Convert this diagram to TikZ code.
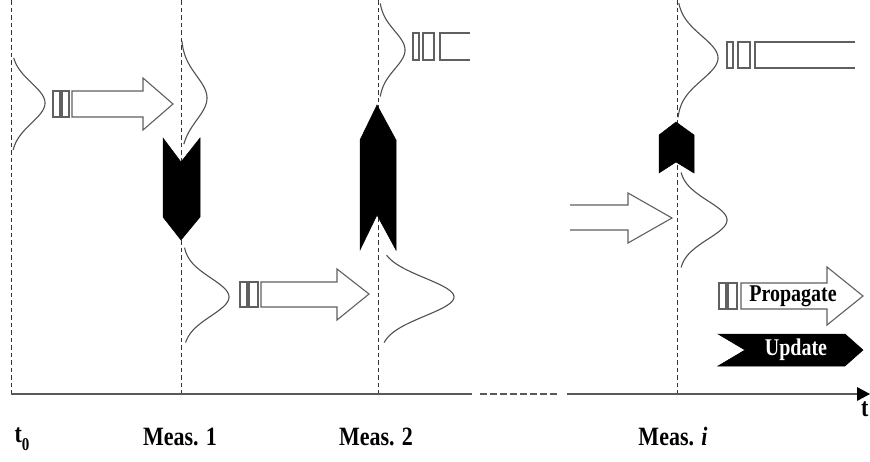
\documentclass[tikz,border=0pt]{standalone}
\usepackage{fontspec}
\setmainfont{Liberation Serif}
\usetikzlibrary{arrows.meta}
\definecolor{curvegray}{HTML}{505050}
\definecolor{outlinegray}{HTML}{606060}
\definecolor{guidegray}{HTML}{333333}
% Gaussian density drawn sideways against a time line:
% #1 base x, #2 peak height, #3 centre y, #4 sigma, #5 parameter range
\newcommand\gausscurve[5]{%
  \draw[gauss] plot[domain=#5, samples=60, smooth]
    ({#1+#2*exp(-0.5*(\x)*(\x))},{#3+#4*\x});}
% slightly tall lettering
\newcommand\tallword[1]{\scalebox{1}[1.2]{#1}}
\begin{document}
\begin{tikzpicture}[x=1pt,y=-1pt,
  guide/.style={draw=guidegray, line width=0.9pt, dash pattern=on 4.5pt off 3pt},
  gauss/.style={draw=curvegray, line width=1.1pt},
  propbox/.style={draw=outlinegray, line width=1.1pt, fill=white, line join=miter},
  updfill/.style={fill=black, draw=black, line width=0.5pt},
  axisline/.style={draw=black!65, line width=1.6pt},
  lbl/.style={font=\fontsize{22}{24}\selectfont\bfseries, inner sep=0pt},
  legendtext/.style={font=\fontsize{20}{22}\selectfont\bfseries, inner sep=0pt}]
\useasboundingbox (0,0) rectangle (870,461);

% measurement instants
\draw[guide] (11,0) -- (11,394);
\draw[guide] (181,0) -- (181,394);
\draw[guide] (378,0) -- (378,394);
\draw[guide] (677,0) -- (677,394);

% time axis
\draw[axisline] (11,394) -- (472,394);
\draw[axisline, line width=1.3pt, dash pattern=on 7pt off 3pt] (480,394) -- (557,394);
\draw[axisline] (567,394) -- (860,394);
\fill[black] (857,387) -- (870,394) -- (857,401) -- cycle;

% densities
\gausscurve{11}{34}{103}{20}{-2.25:2.35}
\gausscurve{181}{26}{98}{22}{-2.6:2.1}
\gausscurve{183}{46}{297}{19}{-2.6:2.4}
\gausscurve{380}{74}{297}{19}{-2.2:2.4}
\gausscurve{379}{26}{50}{19}{-2.45:2.45}
\gausscurve{677}{41}{58}{22}{-2.5:2.7}
\gausscurve{679}{48}{220}{19}{-2.5:2.5}

% propagation t0 -> Meas. 1
\draw[propbox] (53,91) rectangle (60,117);
\draw[propbox] (62,91) rectangle (69,117);
\draw[propbox] (72,91) -- (143,91) -- (143,78) -- (173,104) -- (143,130) -- (143,117) -- (72,117) -- cycle;

% propagation Meas. 1 -> Meas. 2
\draw[propbox] (240,282) rectangle (247,307);
\draw[propbox] (249,282) rectangle (258,307);
\draw[propbox] (261,282) -- (337,282) -- (337,269) -- (369,294) -- (337,320) -- (337,307) -- (261,307) -- cycle;

% propagation leaving Meas. 2
\draw[propbox] (413,33) rectangle (419,60);
\draw[propbox] (423,33) rectangle (434,60);
\draw[propbox] (470,33) -- (440,33) -- (440,60) -- (470,60);

% propagation arriving at Meas. i
\draw[propbox] (570,205) -- (628,205) -- (628,193) -- (672,218) -- (628,243) -- (628,230) -- (570,230);

% propagation leaving Meas. i
\draw[propbox] (727,42) rectangle (733,68);
\draw[propbox] (738,42) rectangle (750,68);
\draw[propbox] (855,42) -- (755,42) -- (755,68) -- (855,68);

% measurement updates
\draw[updfill] (163,138) -- (181,162) -- (200,138) -- (200,217) -- (181,240) -- (163,217) -- cycle;
\draw[updfill] (377,105) -- (396,140) -- (396,250) -- (377,215) -- (360,250) -- (360,140) -- cycle;
\draw[updfill] (676,122) -- (694,135) -- (694,173) -- (676,162) -- (659,173) -- (659,135) -- cycle;

% legend
\draw[propbox] (719,283) rectangle (726,309);
\draw[propbox] (728,283) rectangle (737,309);
\draw[propbox] (741,283) -- (827,283) -- (827,267) -- (863,296) -- (827,325) -- (827,309) -- (741,309) -- cycle;
\node[legendtext] (proplabel) at (793,296) {\tallword{Propagate}};
\draw[updfill] (718,334) -- (845,334) -- (863,350) -- (845,366) -- (718,366) -- (745,350) -- cycle;
\node[legendtext, text=white] (updlabel) at (796,350) {\tallword{Update}};

% axis labels
\node[lbl] (tzero) at (22,439) {\tallword{t\raisebox{-0.28em}{\fontsize{15}{15}\selectfont 0}}};
\node[lbl] (meas1) at (180,437) {\tallword{Meas. 1}};
\node[lbl] (meas2) at (376,437) {\tallword{Meas. 2}};
\node[lbl] (measi) at (673,437) {\tallword{Meas. \textit{i}}};
\node[lbl, anchor=west] (tlabel) at (861,409) {\tallword{t}};
\end{tikzpicture}
\end{document}
